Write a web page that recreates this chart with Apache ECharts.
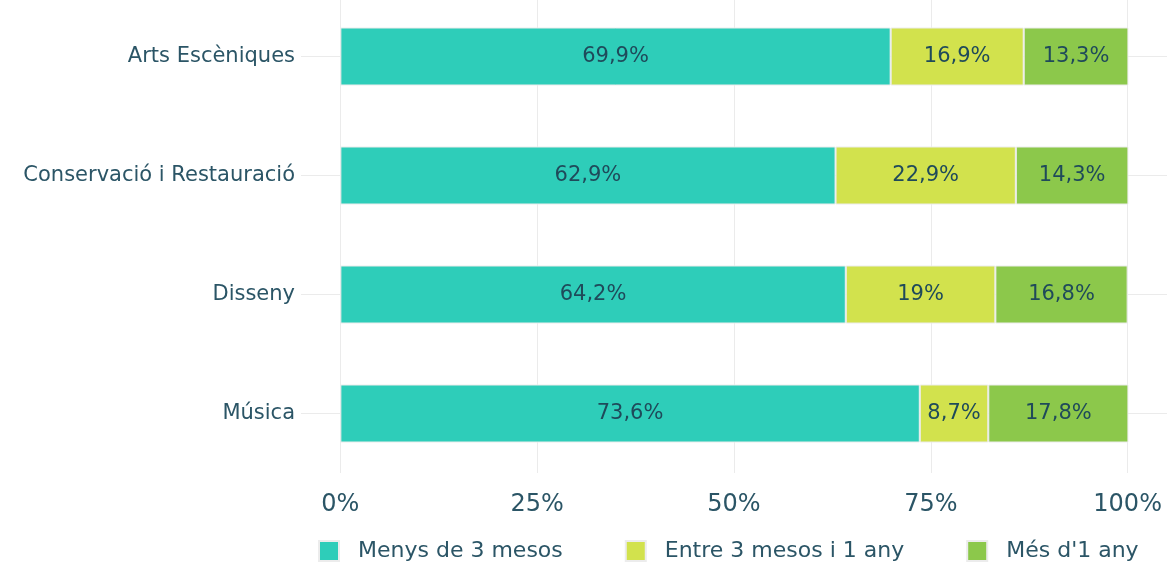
<!DOCTYPE html>
<html>
<head>
<meta charset="utf-8">
<script src="https://cdn.jsdelivr.net/npm/echarts@6/dist/echarts.min.js"></script>
<style>html,body{margin:0;padding:0;background:#fff}#c{width:1167px;height:565px}</style>
</head>
<body>
<div id="c"></div>
<script>
const categories=['Arts Escèniques','Conservació i Restauració','Disseny','Música'];
const seriesNames=['Menys de 3 mesos','Entre 3 mesos i 1 any',"Més d'1 any"];
const menys3=[69.9,62.9,64.2,73.6];
const entre=[16.9,22.9,19,8.7];
const mes1=[13.3,14.3,16.8,17.8];
const ticks=[0,25,50,75,100];

const colors=['#2ecdb9','#d2e24d','#8cc84b'];
const txt='#2b5566';
const font='DejaVu Sans';
const fmtPct=v=>String(v).replace('.',',')+'%';

const chart=echarts.init(document.getElementById('c'));
const mk=(name,data,i)=>({name,type:'bar',stack:'t',data,barWidth:58,
  itemStyle:{color:colors[i],borderColor:'#ececec',borderWidth:1},
  label:{show:true,position:'inside',formatter:p=>fmtPct(p.value),color:'#1f4a5a',fontSize:21,fontFamily:font}});

chart.setOption({
  animation:false,
  textStyle:{fontFamily:font},
  grid:{left:301,right:0,top:-3,height:476,outerBoundsMode:'none',containLabel:false},
  legend:{bottom:-2,left:313,itemWidth:20,itemHeight:20,itemGap:62,icon:'rect',
    textStyle:{color:txt,fontSize:22,fontFamily:font,padding:[0,0,0,14]},data:seriesNames},
  xAxis:{type:'value',min:-5,max:105,
    axisLine:{show:false},
    axisTick:{show:false,customValues:ticks},
    axisLabel:{customValues:ticks,formatter:v=>v+'%',color:txt,fontSize:24,margin:20,fontFamily:font},
    splitLine:{show:true,lineStyle:{color:'#ebebeb',width:1}}},
  yAxis:{type:'category',inverse:true,data:categories,
    axisLine:{show:false},axisTick:{show:false},
    axisLabel:{color:txt,fontSize:21,margin:6,fontFamily:font},
    splitLine:{show:true,alignWithLabel:true,lineStyle:{color:'#ebebeb',width:1}}},
  series:[mk(seriesNames[0],menys3,0),mk(seriesNames[1],entre,1),mk(seriesNames[2],mes1,2)]
});
</script>
</body>
</html>
